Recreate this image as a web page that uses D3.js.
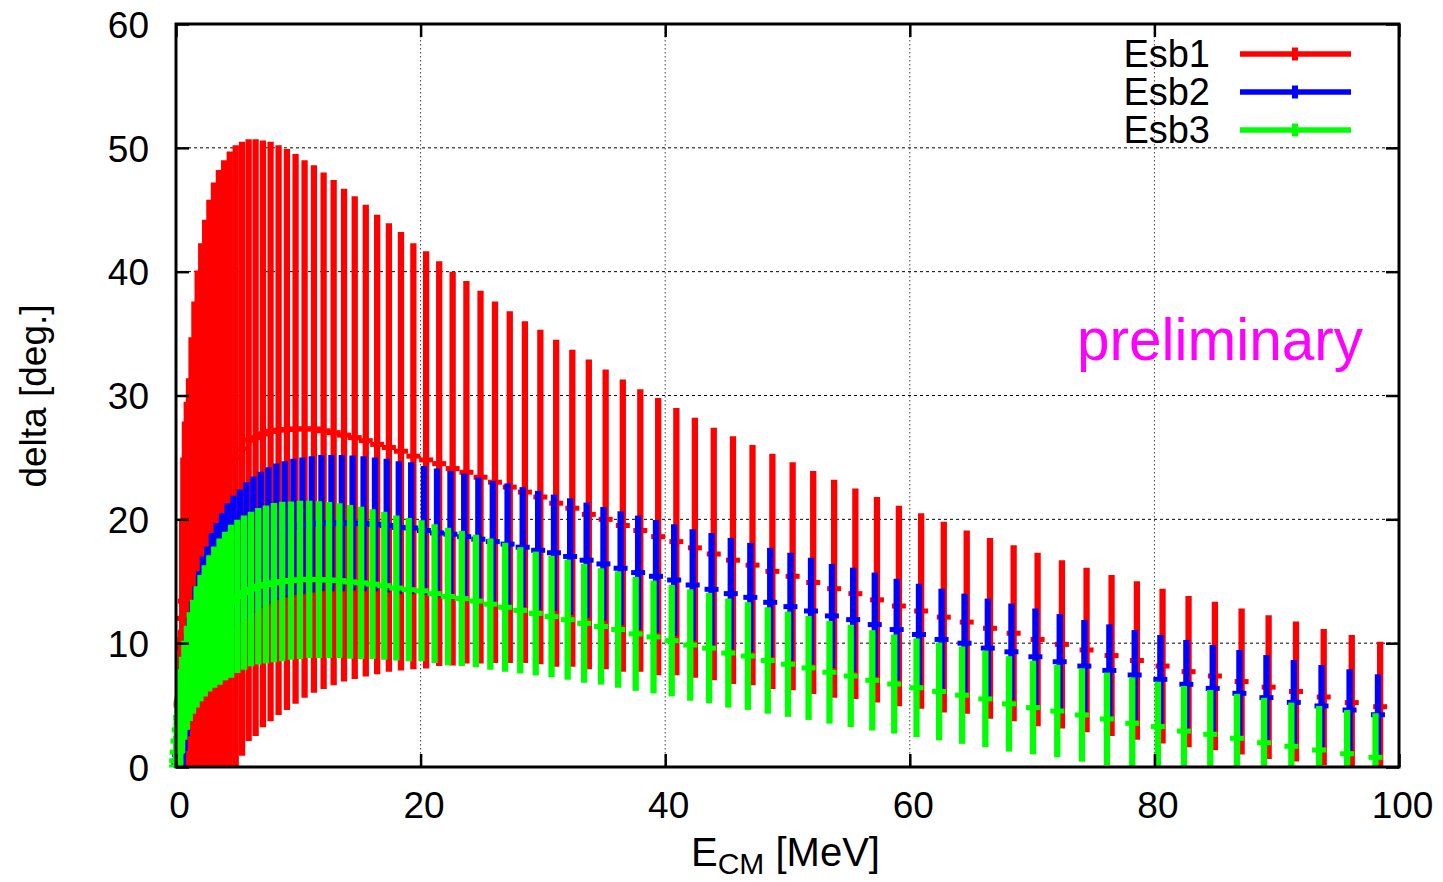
<!DOCTYPE html>
<html>
<head>
<meta charset="utf-8">
<script src="https://cdn.jsdelivr.net/npm/d3@7"></script>
<style>
  html, body { margin: 0; padding: 0; background: #fff; }
  svg { display: block; }
  text { font-family: "Liberation Sans", Arial, Helvetica, sans-serif; fill: #000; }
</style>
</head>
<body>
<svg id="chart" width="1443" height="882"></svg>
<script>
// Centre-of-mass energy grid [MeV] (uniform in momentum)
const ecm = [
  0, 0.0139, 0.0556, 0.1251, 0.2224, 0.3475, 0.5004, 0.6811, 0.8896, 1.1259,
  1.39, 1.6819, 2.0016, 2.3491, 2.7244, 3.1275, 3.5584, 4.0171, 4.5036, 5.0179,
  5.56, 6.1299, 6.7276, 7.3531, 8.0064, 8.6875, 9.3964, 10.1331, 10.8976, 11.6899,
  12.51, 13.3579, 14.2336, 15.1371, 16.0684, 17.0275, 18.0144, 19.0291, 20.0716, 21.1419,
  22.24, 23.3659, 24.5196, 25.7011, 26.9104, 28.1475, 29.4124, 30.7051, 32.0256, 33.3739,
  34.75, 36.1539, 37.5856, 39.0451, 40.5324, 42.0475, 43.5904, 45.1611, 46.7596, 48.3859,
  50.04, 51.7219, 53.4316, 55.1691, 56.9344, 58.7275, 60.5484, 62.3971, 64.2736, 66.1779,
  68.11, 70.0699, 72.0576, 74.0731, 76.1164, 78.1875, 80.2864, 82.4131, 84.5676, 86.7499,
  88.96, 91.1979, 93.4636, 95.7571, 98.0784
];

// Energy offset of each set relative to the grid [MeV]
const eShift = [0.38, 0.2, 0.0];

// Esb1: phase shift and its uncertainty [deg.]
const esb1 = [
  5.0, 5.2, 5.3, 9.6, 12.0, 13.4, 14.2, 15.2, 16.9, 18.4,
  19.7, 20.9, 21.9, 22.7, 23.4, 23.9, 24.3, 24.7, 25.0, 25.7,
  26.4, 26.6, 26.9, 27.1, 27.2, 27.25, 27.3, 27.3, 27.3, 27.15,
  27.0, 26.8, 26.6, 26.35, 26.05, 25.8, 25.5, 25.1, 24.8, 24.5,
  24.1, 23.8, 23.4, 23.0, 22.6, 22.2, 21.8, 21.3, 20.9, 20.4,
  20.0, 19.5, 19.1, 18.6, 18.2, 17.7, 17.2, 16.7, 16.3, 15.8,
  15.4, 14.9, 14.4, 14.0, 13.5, 13.0, 12.6, 12.1, 11.7, 11.2,
  10.8, 10.3, 9.9, 9.45, 9.0, 8.6, 8.15, 7.7, 7.35, 6.9,
  6.45, 6.1, 5.65, 5.2, 4.87
];
const esb1Err = [
  5.5, 5.8, 5.8, 10.4, 13.0, 14.5, 15.3, 16.2, 17.8, 19.2,
  20.4, 21.4, 22.3, 23.1, 23.8, 24.3, 24.7, 25.0, 25.2, 24.8,
  24.3, 24.1, 23.7, 23.4, 23.0, 22.65, 22.2, 21.7, 21.3, 20.85,
  20.4, 19.9, 19.5, 19.05, 18.55, 18.1, 17.7, 17.2, 16.85, 16.35,
  15.9, 15.45, 15.05, 14.6, 14.2, 13.8, 13.5, 13.2, 12.8, 12.5,
  12.1, 11.8, 11.4, 11.2, 10.8, 10.5, 10.2, 10.0, 9.7, 9.5,
  9.2, 9.0, 8.8, 8.5, 8.3, 8.1, 7.9, 7.7, 7.4, 7.3,
  7.1, 7.0, 6.8, 6.65, 6.5, 6.4, 6.25, 6.1, 6.0, 5.9,
  5.8, 5.65, 5.5, 5.45, 5.25
];

// Esb2
const esb2 = [
  0.3, 0.5, 1.0, 1.7, 2.6, 3.8, 5.2, 6.6, 7.9, 9.1,
  10.2, 11.2, 12.3, 13.0, 14.0, 14.7, 15.4, 16.1, 16.6, 17.05,
  17.55, 17.95, 18.35, 18.7, 19.0, 19.2, 19.4, 19.5, 19.6, 19.7,
  19.7, 19.7, 19.7, 19.65, 19.6, 19.5, 19.35, 19.3, 19.1, 18.9,
  18.8, 18.6, 18.4, 18.2, 18.0, 17.75, 17.5, 17.3, 17.0, 16.7,
  16.4, 16.05, 15.7, 15.4, 15.1, 14.7, 14.35, 14.0, 13.7, 13.3,
  12.95, 12.6, 12.2, 11.9, 11.5, 11.1, 10.7, 10.3, 10.0, 9.6,
  9.3, 8.9, 8.5, 8.15, 7.8, 7.43, 7.08, 6.68, 6.35, 5.95,
  5.6, 5.22, 4.93, 4.6, 4.22
];
const esb2Err = [
  0.8, 1.5, 2.2, 2.8, 3.3, 3.7, 3.9, 4.1, 4.2, 4.3,
  4.4, 4.6, 4.7, 4.8, 4.9, 5.0, 5.1, 5.2, 5.3, 5.35,
  5.45, 5.5, 5.5, 5.5, 5.5, 5.5, 5.5, 5.5, 5.5, 5.5,
  5.5, 5.5, 5.45, 5.45, 5.4, 5.4, 5.35, 5.3, 5.2, 5.2,
  5.1, 5.1, 5.0, 4.9, 4.9, 4.85, 4.8, 4.7, 4.7, 4.65,
  4.6, 4.6, 4.6, 4.55, 4.5, 4.5, 4.55, 4.5, 4.4, 4.4,
  4.35, 4.3, 4.2, 4.2, 4.2, 4.1, 4.1, 4.1, 4.0, 4.0,
  3.9, 3.9, 3.85, 3.72, 3.72, 3.63, 3.58, 3.58, 3.5, 3.5,
  3.44, 3.42, 3.31, 3.29, 3.27
];

// Esb3
const esb3 = [
  0.0, 0.5, 1.2, 2.1, 3.0, 4.0, 5.0, 6.2, 7.2, 8.1,
  8.9, 9.7, 10.4, 11.0, 11.6, 12.1, 12.55, 13.0, 13.38, 13.78,
  14.08, 14.37, 14.59, 14.73, 14.88, 14.97, 15.06, 15.12, 15.15, 15.13,
  15.1, 15.05, 14.95, 14.87, 14.77, 14.64, 14.45, 14.32, 14.23, 14.0,
  13.77, 13.6, 13.4, 13.15, 12.9, 12.65, 12.4, 12.15, 11.9, 11.6,
  11.35, 11.1, 10.75, 10.5, 10.2, 9.85, 9.6, 9.2, 8.96, 8.6,
  8.3, 8.0, 7.65, 7.35, 7.0, 6.7, 6.4, 6.1, 5.8, 5.5,
  5.1, 4.8, 4.52, 4.2, 3.88, 3.53, 3.26, 2.9, 2.64, 2.32,
  1.96, 1.67, 1.37, 1.07, 0.78
];
const esb3Err = [
  1.0, 2.0, 3.0, 3.6, 3.8, 3.9, 3.9, 4.0, 4.2, 4.4,
  4.6, 4.9, 5.1, 5.3, 5.5, 5.7, 5.9, 6.0, 6.18, 6.18,
  6.22, 6.24, 6.32, 6.38, 6.43, 6.44, 6.39, 6.39, 6.35, 6.33,
  6.3, 6.25, 6.2, 6.14, 6.04, 5.97, 5.85, 5.79, 5.7, 5.6,
  5.55, 5.45, 5.35, 5.3, 5.2, 5.1, 5.0, 4.9, 4.85, 4.8,
  4.7, 4.7, 4.6, 4.55, 4.5, 4.5, 4.45, 4.4, 4.35, 4.3,
  4.25, 4.2, 4.15, 4.13, 4.05, 4.0, 3.98, 3.95, 3.93, 3.9,
  3.85, 3.78, 3.73, 3.77, 3.74, 3.71, 3.63, 3.64, 3.58, 3.58,
  3.62, 3.53, 3.56, 3.53, 3.56
];

const seriesNames = ["Esb1", "Esb2", "Esb3"];
const seriesColors = ["#ff0000", "#0000ff", "#00ff00"];
const xTicks = [0, 20, 40, 60, 80, 100];
const yTicks = [0, 10, 20, 30, 40, 50, 60];
const xGrid = [20, 40, 60, 80];
const yGrid = [10, 20, 30, 40, 50];

// ---------------------------------------------------------------------------
const svg = d3.select("#chart");
const L = 176, R = 1399, T = 24, B = 767;

const x = d3.scaleLinear().domain([0, 100]).range([L, R]);
const y = d3.scaleLinear().domain([0, 60]).range([B, T]);

// grid
const grid = svg.append("g");
grid.selectAll("line.h").data(yGrid).join("line")
  .attr("x1", L).attr("x2", R)
  .attr("y1", d => y(d)).attr("y2", d => y(d))
  .attr("stroke", "#000").attr("stroke-width", 1)
  .attr("stroke-dasharray", "3,3");
grid.selectAll("line.v").data(xGrid).join("line")
  .attr("y1", T).attr("y2", B)
  .attr("x1", d => x(d)).attr("x2", d => x(d))
  .attr("stroke", "#444").attr("stroke-width", 1)
  .attr("stroke-dasharray", "1.5,2.5");

// error-bar data
svg.append("clipPath").attr("id", "clip")
  .append("rect").attr("x", 150).attr("y", 0).attr("width", 1280).attr("height", B + 0.5);

const series = seriesNames.map((name, k) => ({
  name,
  color: seriesColors[k],
  shift: eShift[k],
  values: [esb1, esb2, esb3][k],
  errs: [esb1Err, esb2Err, esb3Err][k]
}));

const plot = svg.append("g").attr("clip-path", "url(#clip)");
series.forEach(s => {
  const pts = ecm.map((e, i) => ({ e: e + s.shift, v: s.values[i], err: s.errs[i] }));
  const g = plot.append("g");
  g.selectAll("line.bar").data(pts).join("line")
    .attr("class", "bar")
    .attr("x1", d => x(d.e)).attr("x2", d => x(d.e))
    .attr("y1", d => y(d.v - d.err)).attr("y2", d => y(d.v + d.err))
    .attr("stroke", s.color).attr("stroke-width", 6.3);
  g.selectAll("line.cap").data(pts).join("line")
    .attr("class", "cap")
    .attr("x1", d => x(d.e) - 7).attr("x2", d => x(d.e) + 7)
    .attr("y1", d => y(d.v)).attr("y2", d => y(d.v))
    .attr("stroke", s.color).attr("stroke-width", 5);
});

// axes: inward ticks on all four sides, labels on left and bottom
const tickLen = 13;
const axisFont = 37;

const gL = svg.append("g").attr("transform", `translate(${L},0)`)
  .call(d3.axisLeft(y).tickValues(yTicks).tickSize(-tickLen).tickPadding(27));
const gB = svg.append("g").attr("transform", `translate(0,${B})`)
  .call(d3.axisBottom(x).tickValues(xTicks).tickSize(-tickLen).tickPadding(25));
const gR = svg.append("g").attr("transform", `translate(${R},0)`)
  .call(d3.axisRight(y).tickValues(yTicks).tickSize(-tickLen).tickFormat(""));
const gT = svg.append("g").attr("transform", `translate(0,${T})`)
  .call(d3.axisTop(x).tickValues(xTicks).tickSize(-tickLen).tickFormat(""));

[gL, gB, gR, gT].forEach(g => {
  g.select(".domain").remove();
  g.selectAll(".tick line").attr("stroke", "#000").attr("stroke-width", 2.5);
  g.selectAll(".tick text")
    .style("font-family", '"Liberation Sans", Arial, Helvetica, sans-serif')
    .style("font-size", axisFont + "px").attr("fill", "#000");
});
gL.selectAll(".tick text").attr("dy", "0.36em");
gB.selectAll(".tick text").attr("dx", 3);

// frame
svg.append("rect")
  .attr("x", L).attr("y", T).attr("width", R - L).attr("height", B - T)
  .attr("fill", "none").attr("stroke", "#000").attr("stroke-width", 3);

// axis titles
svg.append("text")
  .attr("transform", "translate(46,396) rotate(-90)")
  .attr("text-anchor", "middle")
  .style("font-size", "37px")
  .text("delta [deg.]");

const xt = svg.append("text")
  .attr("x", 691).attr("y", 866)
  .style("font-size", "40px");
xt.append("tspan").text("E");
xt.append("tspan").attr("dy", 8).style("font-size", "30px").text("CM");
xt.append("tspan").attr("dy", -8).text(" [MeV]");

// legend
const legend = svg.append("g");
const rowY = [54, 92, 130];
series.forEach((s, k) => {
  const ry = rowY[k];
  legend.append("text")
    .attr("x", 1210).attr("y", ry + 13)
    .attr("text-anchor", "end")
    .style("font-size", "38px")
    .text(s.name);
  legend.append("line")
    .attr("x1", 1240).attr("x2", 1351).attr("y1", ry).attr("y2", ry)
    .attr("stroke", s.color).attr("stroke-width", 5.5);
  legend.append("line")
    .attr("x1", 1295).attr("x2", 1295).attr("y1", ry - 6.5).attr("y2", ry + 6.5)
    .attr("stroke", s.color).attr("stroke-width", 6);
});

// annotation
svg.append("text")
  .attr("x", 1077).attr("y", 360)
  .style("font-size", "58.5px")
  .style("fill", "#ff00ff")
  .text("preliminary");
</script>
</body>
</html>
